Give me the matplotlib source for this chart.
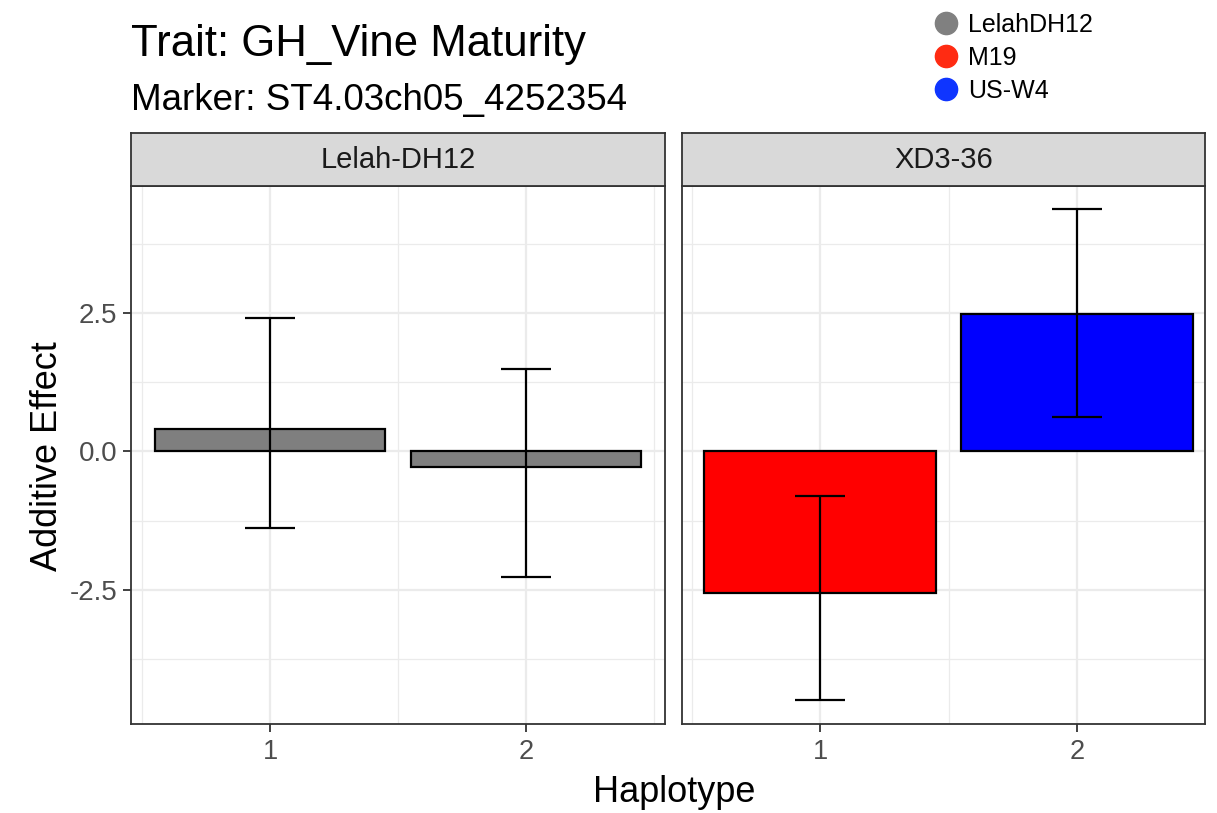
import matplotlib
matplotlib.use('Agg')
import matplotlib.pyplot as plt
from matplotlib.lines import Line2D
from matplotlib.ticker import FixedLocator

plt.rcParams['font.family'] = ['Liberation Sans', 'DejaVu Sans']

# ---- data ----
panels = ['Lelah-DH12', 'XD3-36']
haplotypes = [1, 2]
lelah_effect = [0.40, -0.29]
lelah_low = [-1.38, -2.26]
lelah_high = [2.40, 1.48]
xd3_effect = [-2.56, 2.48]
xd3_low = [-4.49, 0.62]
xd3_high = [-0.80, 4.37]
lelah_fill = ['#7F7F7F', '#7F7F7F']
xd3_fill = ['#FF0000', '#0000FF']
legend_labels = ['LelahDH12', 'M19', 'US-W4']
legend_colors = ['#808080', '#FF2B12', '#0F35FF']
y_ticks = [-2.5, 0.0, 2.5]
y_minor = [-3.75, -1.25, 1.25, 3.75]
title = 'Trait: GH_Vine Maturity'
subtitle = 'Marker: ST4.03ch05_4252354'

W, H = 1217, 813
fig = plt.figure(figsize=(W / 100, H / 100), dpi=100)
fig.patch.set_facecolor('white')


def px_axes(x0, y0, x1, y1):
    return fig.add_axes([x0 / W, 1 - y1 / H, (x1 - x0) / W, (y1 - y0) / H])


panel_px = [(131, 665), (682, 1205)]
panel_xlim = [(0.457, 2.543), (0.463, 2.498)]
top, bottom = 186, 724
strip_top = 133

data = [(lelah_effect, lelah_low, lelah_high, lelah_fill),
        (xd3_effect, xd3_low, xd3_high, xd3_fill)]

ylim = (-4.92, 4.79)

for i, (name, (x0, x1), xl, (eff, low, high, fill)) in enumerate(
        zip(panels, panel_px, panel_xlim, data)):
    ax = px_axes(x0, top, x1, bottom)
    ax.set_xlim(*xl)
    ax.set_ylim(*ylim)
    ax.set_facecolor('white')
    # grid
    for yv in y_minor:
        ax.axhline(yv, color='#EBEBEB', lw=0.9, zorder=0)
    for yv in y_ticks:
        ax.axhline(yv, color='#EBEBEB', lw=1.6, zorder=0)
    for xv in [0.5, 1.5, 2.5]:
        ax.axvline(xv, color='#EBEBEB', lw=0.9, zorder=0)
    for xv in haplotypes:
        ax.axvline(xv, color='#EBEBEB', lw=1.6, zorder=0)
    ax.bar(haplotypes, eff, width=0.9, color=fill, edgecolor='black',
           linewidth=1.6, zorder=2)
    yerr = [[e - l for e, l in zip(eff, low)], [h - e for e, h in zip(eff, high)]]
    ax.errorbar(haplotypes, eff, yerr=yerr, fmt='none', ecolor='black',
                elinewidth=1.6, capsize=18, capthick=1.6, zorder=3)
    for s in ax.spines.values():
        s.set_color('#333333')
        s.set_linewidth(1.3)
    ax.xaxis.set_major_locator(FixedLocator(haplotypes))
    ax.set_xticklabels([str(h) for h in haplotypes])
    ax.tick_params(axis='x', length=6, width=1.3, color='#333333',
                   labelsize=19.5, labelcolor='#4D4D4D', pad=5)
    ax.yaxis.set_major_locator(FixedLocator(y_ticks))
    if i == 0:
        ax.set_yticklabels([f'{v:.1f}' for v in y_ticks])
        ax.tick_params(axis='y', length=6, width=1.3, color='#333333',
                       labelsize=20, labelcolor='#4D4D4D', pad=4)
    else:
        ax.tick_params(axis='y', left=False, labelleft=False)
    # strip
    sax = px_axes(x0, strip_top, x1, top)
    sax.set_facecolor('#D9D9D9')
    sax.set_xticks([])
    sax.set_yticks([])
    for s in sax.spines.values():
        s.set_color('#333333')
        s.set_linewidth(1.3)
    sax.text(0.5, 0.5, name, ha='center', va='center', fontsize=21,
             color='#1A1A1A', transform=sax.transAxes)

fig.text(131 / W, 1 - 56 / H, title, fontsize=31.5, ha='left', va='baseline', color='black')
fig.text(131 / W, 1 - 110 / H, subtitle, fontsize=26.5, ha='left', va='baseline', color='black')
fig.text(674 / W, 1 - 802 / H, 'Haplotype', fontsize=26, ha='center', va='baseline', color='black')
fig.text(48 / W, 1 - 456 / H, 'Additive Effect', fontsize=26, ha='center', va='center',
         rotation=90, color='black')

handles = [Line2D([], [], marker='o', linestyle='none', markersize=16,
                  markerfacecolor=c, markeredgecolor=c) for c in legend_colors]
fig.legend(handles, legend_labels, loc='upper left',
           bbox_to_anchor=(933 / W, 1 - 13 / H), frameon=False, fontsize=18,
           handlelength=1.0, handletextpad=0.4, labelspacing=0.36,
           borderpad=0, borderaxespad=0)

fig.savefig('out.png', dpi=100, facecolor='white')
